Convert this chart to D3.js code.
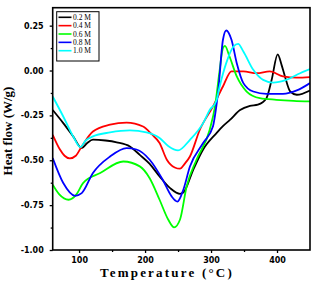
<!DOCTYPE html>
<html><head><meta charset="utf-8">
<script src="https://cdn.jsdelivr.net/npm/d3@7"></script>
<style>
html,body{margin:0;padding:0;background:#fff;}
svg{display:block;}
</style></head>
<body>
<script>
// ---- data (temperature °C, heat flow W/g) ----
const labels = ["0.2 M", "0.4 M", "0.6 M", "0.8 M", "1.0 M"];
const colors = ["#000000", "#ff0000", "#00ff00", "#0000ff", "#00ffff"];
const s02 = [[60,-0.22],[76,-0.293],[91,-0.367],[104,-0.432],[112,-0.405],[121,-0.385],[140,-0.39],[157,-0.40],[177,-0.423],[192,-0.47],[207,-0.52],[222,-0.59],[238,-0.655],[253,-0.687],[258,-0.68],[273,-0.553],[288,-0.44],[308,-0.35],[318,-0.31],[329,-0.274],[344,-0.22],[359,-0.197],[371,-0.19],[384,-0.154],[392,-0.05],[401,0.09],[407,0.03],[412,-0.033],[420,-0.117],[430,-0.135],[450,-0.111]];
const s04 = [[60,-0.358],[71,-0.44],[78,-0.475],[86,-0.49],[95,-0.475],[104,-0.423],[121,-0.34],[147,-0.302],[172,-0.29],[197,-0.312],[210,-0.355],[222,-0.404],[233,-0.497],[245,-0.54],[253,-0.547],[260,-0.52],[268,-0.479],[283,-0.33],[303,-0.2],[318,-0.089],[331,-0.005],[349,-0.005],[369,-0.015],[389,-0.005],[409,-0.033],[430,-0.04],[450,-0.037]];
const s06 = [[60,-0.636],[70,-0.69],[84,-0.72],[96,-0.69],[106,-0.627],[132,-0.571],[167,-0.507],[192,-0.534],[207,-0.6],[222,-0.72],[235,-0.83],[244,-0.874],[253,-0.83],[263,-0.646],[278,-0.497],[298,-0.33],[306,-0.2],[313,0.0],[318,0.125],[321,0.137],[328,0.078],[339,-0.033],[354,-0.117],[374,-0.154],[399,-0.163],[425,-0.169],[450,-0.172]];
const s08 = [[60,-0.488],[76,-0.627],[94,-0.698],[104,-0.683],[121,-0.571],[147,-0.479],[172,-0.432],[187,-0.44],[207,-0.497],[227,-0.61],[240,-0.7],[249,-0.73],[258,-0.664],[268,-0.535],[288,-0.404],[303,-0.31],[308,-0.2],[311,-0.11],[318,0.17],[323,0.223],[331,0.171],[339,0.041],[349,-0.07],[364,-0.117],[384,-0.13],[409,-0.13],[430,-0.111],[450,-0.07]];
const s10 = [[60,-0.145],[76,-0.256],[91,-0.367],[102,-0.427],[110,-0.39],[121,-0.367],[147,-0.345],[177,-0.334],[202,-0.345],[222,-0.376],[235,-0.42],[250,-0.445],[268,-0.386],[288,-0.293],[298,-0.22],[308,-0.17],[313,-0.09],[323,0.041],[334,0.134],[341,0.149],[349,0.106],[364,0.004],[379,-0.052],[394,-0.067],[414,-0.052],[435,-0.015],[450,0.008]];
const series = [s02, s04, s06, s08, s10];
const xTicks = [100, 200, 300, 400];
const xMinor = [150, 250, 350];
const yTicks = [0.25, 0.00, -0.25, -0.50, -0.75, -1.00];
const yMinor = [0.125, -0.125, -0.375, -0.625, -0.875];
const xTitle = "Temperature (°C)";
const yTitle = "Heat flow (W/g)";

// ---- layout ----
const W = 312, H = 286;
const L = 52.7, R = 310, T = 7.7, B = 250;

const svg = d3.select("body").append("svg").attr("width", W).attr("height", H);
const x = d3.scaleLinear().domain([60, 450]).range([L, R]);
const y = d3.scaleLinear().domain([-1, 0.35]).range([B, T]);

svg.append("clipPath").attr("id", "clip").append("rect")
  .attr("x", L).attr("y", T).attr("width", R - L).attr("height", B - T);

const line = d3.line().x(d => x(d[0])).y(d => y(d[1])).curve(d3.curveMonotoneX);
const g = svg.append("g").attr("clip-path", "url(#clip)");
series.forEach((s, i) => {
  g.append("path").attr("d", line(s)).attr("fill", "none")
    .attr("stroke", colors[i]).attr("stroke-width", 1.8).attr("stroke-linejoin", "round");
});

// frame
svg.append("rect").attr("x", L).attr("y", T).attr("width", R - L).attr("height", B - T)
  .attr("fill", "none").attr("stroke", "#000").attr("stroke-width", 1.6);

const tickFont = "'DejaVu Sans', sans-serif";
// axes
svg.append("g").attr("transform", `translate(0,${B})`)
  .call(d3.axisBottom(x).tickValues(xTicks).tickSize(3).tickPadding(4).tickFormat(d3.format("d")));
svg.append("g").attr("transform", `translate(0,${B})`)
  .call(d3.axisBottom(x).tickValues(xMinor).tickSize(2).tickFormat(""));
svg.append("g").attr("transform", `translate(${L},0)`)
  .call(d3.axisLeft(y).tickValues(yTicks).tickSize(3).tickPadding(6).tickFormat(d => d3.format(".2f")(d).replace("−", "-")));
svg.append("g").attr("transform", `translate(${L},0)`)
  .call(d3.axisLeft(y).tickValues(yMinor).tickSize(2).tickFormat(""));
svg.selectAll(".domain").remove();
svg.selectAll(".tick line").attr("stroke", "#000").attr("stroke-width", 1.3);
svg.selectAll(".tick text").attr("font-family", tickFont).attr("font-weight", "bold")
  .attr("font-size", 8).attr("fill", "#000");

// axis titles
svg.append("text").attr("x", 167).attr("y", 277).attr("text-anchor", "middle")
  .attr("font-family", "'Liberation Serif', serif").attr("font-weight", "bold")
  .attr("font-size", 13).attr("letter-spacing", 2.2).text(xTitle);
svg.append("text").attr("transform", `translate(12,131) rotate(-90)`).attr("text-anchor", "middle")
  .attr("font-family", "'Liberation Serif', serif").attr("font-weight", "bold")
  .attr("font-size", 13).text(yTitle);

// legend
const lg = svg.append("g");
lg.append("rect").attr("x", 56.7).attr("y", 11.7).attr("width", 42.3).attr("height", 49.3)
  .attr("fill", "#fff").attr("stroke", "#000").attr("stroke-width", 1);
labels.forEach((lab, i) => {
  const yy = 17.3 + i * 8.35;
  lg.append("line").attr("x1", 58.5).attr("x2", 71.5).attr("y1", yy).attr("y2", yy)
    .attr("stroke", colors[i]).attr("stroke-width", 1.6);
  lg.append("text").attr("x", 73).attr("y", yy + 2.5)
    .attr("font-family", "'Liberation Serif', serif").attr("font-size", 7.5)
    .attr("fill", "#000").text(lab);
});
</script>
</body></html>
